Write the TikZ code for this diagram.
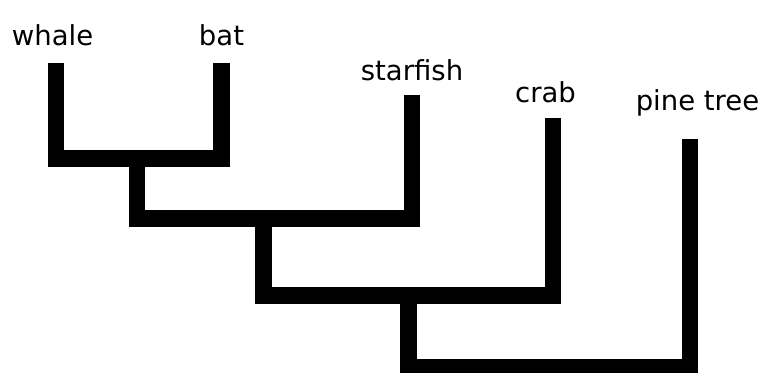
\documentclass[tikz,border=0pt]{standalone}
\usepackage{fontspec}
\setmainfont{DejaVu Sans}
\usepackage{tikz}

\begin{document}
\begin{tikzpicture}[
    x=1pt, y=-1pt,
    taxon/.style={anchor=base,inner sep=0pt,font=\fontsize{27.5}{32}\selectfont},
    branch/.style={draw=black,line width=16.5pt,line join=miter},
  ]

  % page frame (pixel grid of the reference)
  \clip (0,0) rectangle (760,372);
  \fill[white] (0,0) rectangle (760,372);

  % --- taxa labels ---
  \node[taxon] (whale)    at (52.5,45)  {whale};
  \node[taxon] (bat)      at (221.5,45) {bat};
  \node[taxon] (starfish) at (412,80)   {starfish};
  \node[taxon] (crab)     at (545.5,102) {crab};
  \node[taxon] (pine)     at (697.5,110) {pine tree};

  % --- tips of the branches, just below each label ---
  \coordinate (whale tip)    at (56,63);
  \coordinate (bat tip)      at (221.5,63);
  \coordinate (starfish tip) at (412,95);
  \coordinate (crab tip)     at (553,118);
  \coordinate (pine tip)     at (690,139);

  % --- inner nodes of the tree ---
  \coordinate (j1) at (137,158.5);
  \coordinate (j2) at (263.5,218.5);
  \coordinate (j3) at (408.5,295.5);
  \coordinate (j4) at (408.5,367);

  % --- branches ---
  \draw[branch] (whale tip) |- (j1) -| (bat tip);
  \draw[branch] (j1) |- (j2) -| (starfish tip);
  \draw[branch] (j2) |- (j3) -| (crab tip);
  \draw[branch] (j3) |- (j4) -| (pine tip);

\end{tikzpicture}
\end{document}
